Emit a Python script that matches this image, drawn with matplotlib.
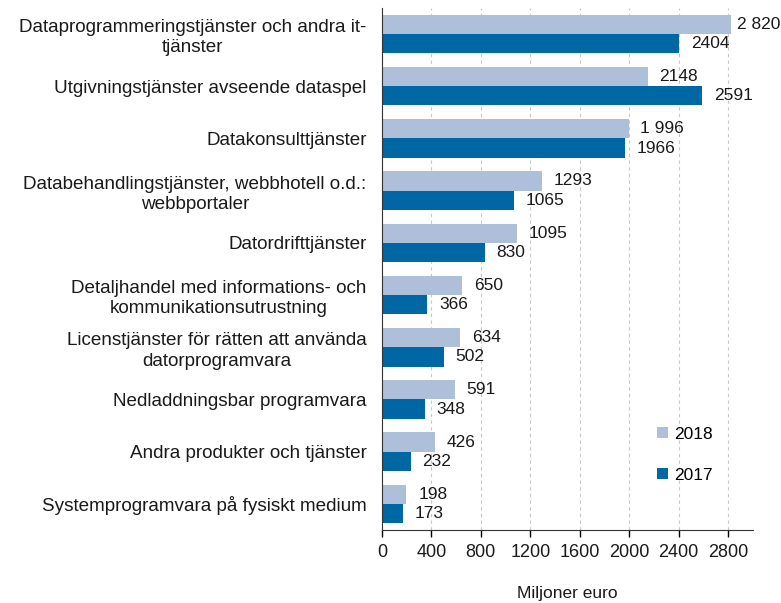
import numpy as np
import matplotlib.pyplot as plt

plt.rcParams['font.family'] = ['Liberation Sans', 'DejaVu Sans']

categories = [
    "Dataprogrammeringstjänster och andra it-\ntjänster",
    "Utgivningstjänster avseende dataspel",
    "Datakonsulttjänster",
    "Databehandlingstjänster, webbhotell o.d.:\nwebbportaler",
    "Datordrifttjänster",
    "Detaljhandel med informations- och\nkommunikationsutrustning",
    "Licenstjänster för rätten att använda\ndatorprogramvara",
    "Nedladdningsbar programvara",
    "Andra produkter och tjänster",
    "Systemprogramvara på fysiskt medium",
]
values_2018 = [2820, 2148, 1996, 1293, 1095, 650, 634, 591, 426, 198]
values_2017 = [2404, 2591, 1966, 1065, 830, 366, 502, 348, 232, 173]
labels_2018 = ["2 820", "2148", "1 996", "1293", "1095", "650", "634", "591", "426", "198"]
labels_2017 = ["2404", "2591", "1966", "1065", "830", "366", "502", "348", "232", "173"]
ticks = [0, 400, 800, 1200, 1600, 2000, 2400, 2800]

light = "#adbfd9"
dark = "#0067a5"
txt = "#1a1a1a"

fig = plt.figure(figsize=(7.81, 6.03), dpi=100)
ax = fig.add_axes([0.489, 0.121, 0.475, 0.866])

y = np.arange(len(categories))
h = 0.37
ax.barh(y - h / 2, values_2018, height=h, color=light, label="2018", zorder=2)
ax.barh(y + h / 2, values_2017, height=h, color=dark, label="2017", zorder=2)

# value labels, kept inside the figure on the right
for i in range(len(categories)):
    ax.text(min(values_2018[i] + 95, 2870), y[i] - h / 2, labels_2018[i],
            va="center", ha="left", fontsize=12.5, color=txt)
    ax.text(min(values_2017[i] + 95, 2870), y[i] + h / 2, labels_2017[i],
            va="center", ha="left", fontsize=12.5, color=txt)

ax.set_yticks(y)
ax.set_yticklabels(categories, fontsize=13.6, ha="right", multialignment="center",
                   color=txt, linespacing=1.25)
ax.tick_params(axis="y", length=0, pad=11)
ax.set_ylim(len(categories) - 0.5, -0.5)

ax.set_xlim(0, 3000)
ax.set_xticks(ticks)
ax.set_xticklabels([str(t) for t in ticks], fontsize=13, color=txt)
ax.tick_params(axis="x", direction="out", length=5, width=1, pad=5)
ax.set_xlabel("Miljoner euro", fontsize=12.5, color=txt, labelpad=18)

ax.grid(axis="x", linestyle=(0, (3, 3)), color="#c8c8c8", linewidth=0.8, zorder=0)
ax.spines["top"].set_visible(False)
ax.spines["right"].set_visible(False)
ax.spines["left"].set_color("#333333")
ax.spines["bottom"].set_color("#333333")

ax.legend(loc="lower right", bbox_to_anchor=(0.935, 0.06), frameon=False,
          fontsize=12.5, handlelength=0.6, handleheight=0.6, labelspacing=1.5,
          handletextpad=0.4)

fig.savefig("out.png", dpi=100)
